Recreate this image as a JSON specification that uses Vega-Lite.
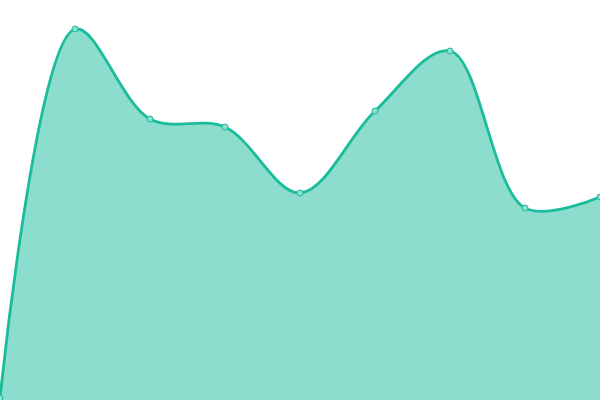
{
  "$schema": "https://vega.github.io/schema/vega-lite/v6.json",
  "autosize": {"type": "none"},
  "width": 600,
  "height": 400,
  "padding": 0,
  "background": "white",
  "config": {"view": {"stroke": null}},
  "data": {
    "values": [
      {"i": 0, "v": 2},
      {"i": 1, "v": 371},
      {"i": 2, "v": 281},
      {"i": 3, "v": 273},
      {"i": 4, "v": 207},
      {"i": 5, "v": 289},
      {"i": 6, "v": 349},
      {"i": 7, "v": 192},
      {"i": 8, "v": 203}
    ]
  },
  "encoding": {
    "x": {"field": "i", "type": "quantitative", "axis": null, "scale": {"domain": [0, 8], "nice": false, "zero": false}},
    "y": {"field": "v", "type": "quantitative", "axis": null, "scale": {"domain": [0, 400], "nice": false}}
  },
  "layer": [
    {"mark": {"type": "area", "interpolate": "catmull-rom", "color": "#1abc9c", "opacity": 0.5}},
    {"mark": {"type": "line", "interpolate": "catmull-rom", "color": "#1abc9c", "strokeWidth": 2.8}},
    {"mark": {"type": "point", "filled": true, "fill": "#8ce0cf", "stroke": "#1abc9c", "strokeWidth": 1, "size": 36, "opacity": 1}}
  ]
}
